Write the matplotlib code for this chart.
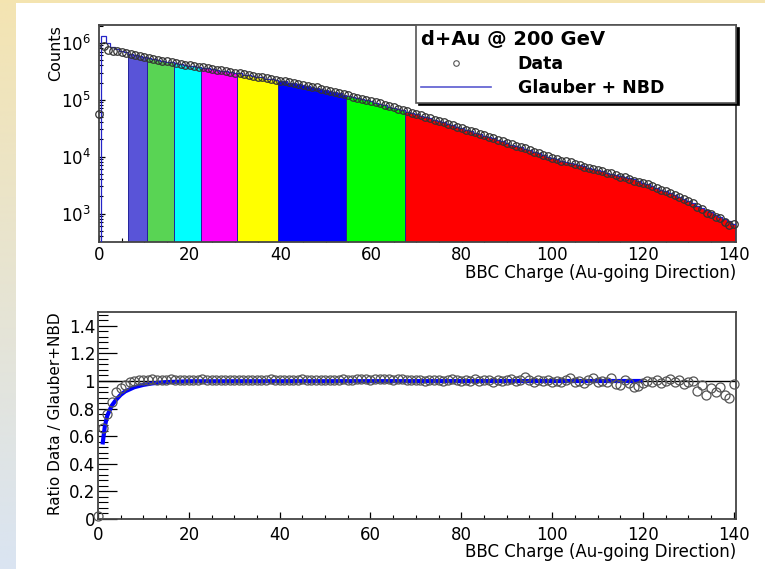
import numpy as np
import matplotlib.pyplot as plt
from matplotlib.lines import Line2D
from matplotlib.patches import Rectangle
from matplotlib.ticker import MultipleLocator, LogLocator, FixedLocator, NullFormatter

# BBC charge bins (width 1, centred on integers)
bbc_charge = np.arange(0, 141)

# Glauber + NBD model, log10(counts) per bin
glauber_log10 = [
    6.45,
    6.12, 6.00, 5.93, 5.89, 5.855, 5.83, 5.805, 5.785, 5.765, 5.745,
    5.73, 5.71, 5.70, 5.68, 5.67, 5.66, 5.64, 5.63, 5.61, 5.60,
    5.59, 5.57, 5.56, 5.55, 5.54, 5.52, 5.51, 5.50, 5.48, 5.47,
    5.46, 5.44, 5.43, 5.42, 5.40, 5.39, 5.37, 5.36, 5.35, 5.33,
    5.32, 5.30, 5.29, 5.27, 5.25, 5.24, 5.22, 5.21, 5.19, 5.17,
    5.15, 5.13, 5.11, 5.09, 5.07, 5.05, 5.03, 5.01, 4.99, 4.97,
    4.95, 4.93, 4.90, 4.88, 4.86, 4.83, 4.81, 4.79, 4.76, 4.74,
    4.72, 4.69, 4.67, 4.64, 4.62, 4.60, 4.57, 4.55, 4.52, 4.50,
    4.47, 4.45, 4.42, 4.40, 4.37, 4.34, 4.32, 4.29, 4.27, 4.24,
    4.21, 4.19, 4.16, 4.13, 4.11, 4.08, 4.06, 4.03, 4.00, 3.98,
    3.95, 3.93, 3.91, 3.89, 3.87, 3.85, 3.83, 3.80, 3.78, 3.76,
    3.74, 3.72, 3.70, 3.68, 3.66, 3.64, 3.62, 3.60, 3.57, 3.54,
    3.51, 3.48, 3.45, 3.42, 3.39, 3.36, 3.33, 3.29, 3.26, 3.22,
    3.18, 3.14, 3.10, 3.06, 3.02, 2.98, 2.94, 2.90, 2.86, 2.82,
]

# ratio data / (Glauber + NBD) per bin
ratio = [
    0.02,
    0.66, 0.76, 0.85, 0.92, 0.95, 0.97, 0.99, 1.0, 1.005, 1.01,
    1.01, 1.012, 1.01, 1.008, 1.01, 1.012, 1.01, 1.008, 1.01, 1.01,
    1.008, 1.01, 1.012, 1.006, 1.01, 1.008, 1.01, 1.004, 1.006, 1.01,
    1.008, 1.006, 1.01, 1.004, 1.008, 1.006, 1.01, 1.012, 1.006, 1.008,
    1.006, 1.01, 1.004, 1.008, 1.012, 1.006, 1.004, 1.01, 1.008, 1.006,
    1.01, 1.004, 1.008, 1.014, 1.01, 1.006, 1.012, 1.016, 1.014, 1.01,
    1.016, 1.012, 1.018, 1.014, 1.01, 1.016, 1.012, 1.006, 1.01, 1.004,
    1.008, 1.0, 1.006, 1.01, 1.004, 1.0, 1.008, 1.012, 1.004, 0.998,
    1.006, 1.002, 1.012, 1.0, 1.008, 1.004, 0.996, 1.01, 1.002, 1.008,
    1.014, 1.0, 1.008, 1.03, 1.004, 0.996, 1.004, 0.998, 1.006, 0.994,
    1.0, 0.99, 1.01, 1.02, 0.99, 1.0, 0.985, 1.01, 1.02, 0.995,
    1.0, 0.99, 1.02, 0.975, 0.97, 1.005, 0.985, 0.955, 0.965, 0.985,
    1.0, 0.99, 1.01, 0.985, 1.0, 1.015, 0.995, 1.005, 0.975, 0.995,
    1.0, 0.93, 0.97, 0.90, 0.95, 0.92, 0.96, 0.90, 0.88, 0.975,
]

# centrality class boundaries and their fill colours
band_edges = [6.5, 10.5, 16.5, 22.5, 30.5, 39.5, 54.5, 67.5, 140.5]
band_colors = ['#5954d8', '#59d454', '#00ffff', '#ff00ff',
               '#ffff00', '#0000ff', '#00ff00', '#ff0000']

# trigger turn-on curve drawn in the ratio panel
eff_x = [1, 1.5, 2, 3, 4, 5, 6, 7, 8, 10, 12, 15, 20, 120]
eff_y = [0.54, 0.67, 0.745, 0.82, 0.865, 0.90, 0.925, 0.94, 0.955,
         0.972, 0.983, 0.992, 0.998, 1.0]

ratio_yticks = [0, 0.2, 0.4, 0.6, 0.8, 1.0, 1.2, 1.4]
ratio_yticklabels = ['0', '0.2', '0.4', '0.6', '0.8', '1', '1.2', '1.4']
x_label = 'BBC Charge (Au-going Direction)'

glauber = 10 ** np.array(glauber_log10)
counts = glauber * np.array(ratio)
edges = np.append(bbc_charge - 0.5, bbc_charge[-1] + 0.5)

W, H = 765, 569
fig = plt.figure(figsize=(W / 100, H / 100), dpi=100, facecolor='white')

# slide background: yellow strip at top, yellow-to-blue strip on the left
bg = fig.add_axes([0, 0, 1, 1], zorder=-10)
bg.axis('off')
top_c = np.array([244, 228, 178]) / 255
bot_c = np.array([218, 228, 242]) / 255
t = np.linspace(0, 1, 200)[:, None, None]
grad = top_c * (1 - t) + bot_c * t
bg.imshow(grad, extent=[0, 16 / W, 0, 1], aspect='auto')
bg.add_patch(Rectangle((0, 1 - 3 / H), 1, 3 / H, color='#f4e4b0', lw=0))
bg.set_xlim(0, 1)
bg.set_ylim(0, 1)

spine_c = '#444444'

# ---------- top panel ----------
ax = fig.add_axes([99 / W, 1 - 242 / H, 637 / W, 217 / H])
for i in range(len(band_colors)):
    lo, hi = band_edges[i], band_edges[i + 1]
    sel = (bbc_charge > lo) & (bbc_charge < hi)
    ax.stairs(glauber[sel], np.append(bbc_charge[sel] - 0.5, bbc_charge[sel][-1] + 0.5),
              fill=True, baseline=1, facecolor=band_colors[i],
              edgecolor='#22229a', linewidth=0.7, zorder=2)
ax.stairs(glauber[1:], edges[1:], baseline=1, color='#2424c8', lw=0.9, zorder=3)
ax.plot(bbc_charge, counts, 'o', ms=5.4, mfc='none', mec='#333333', mew=0.9,
        zorder=4, clip_on=False)

ax.set_yscale('log')
ax.set_xlim(0, 140.5)
ax.set_ylim(316, 2.05e6)
ax.yaxis.set_major_locator(LogLocator(base=10))
ax.yaxis.set_minor_locator(LogLocator(base=10, subs=np.arange(2, 10)))
ax.yaxis.set_minor_formatter(NullFormatter())
ax.xaxis.set_major_locator(MultipleLocator(20))
ax.xaxis.set_minor_locator(MultipleLocator(5))
ax.tick_params(axis='y', which='major', direction='in', length=4.5, width=0.9,
               labelsize=12, pad=6)
ax.tick_params(axis='y', which='minor', direction='in', length=3, width=0.8)
ax.tick_params(axis='x', which='major', direction='in', length=5, width=0.9,
               labelsize=12, pad=3)
ax.tick_params(axis='x', which='minor', direction='in', length=3, width=0.8)
for s in ax.spines.values():
    s.set_color(spine_c)
    s.set_linewidth(1.3)
ax.set_ylabel('Counts', loc='top', fontsize=11.5)
ax.yaxis.set_label_coords(-0.057, 1.0)
ax.set_xlabel(x_label, loc='right', fontsize=12)
ax.xaxis.set_label_coords(1.0, -0.1)

handles = [Line2D([], [], ls='none', marker='o', ms=4, mfc='none', mec='#555555', mew=0.8),
           Line2D([], [], color='#5a5ad0', lw=1.2)]
leg = ax.legend(handles, ['Data', 'Glauber + NBD'], loc='upper left',
                bbox_to_anchor=(0.4976, 0.645, 0.5024, 0.355), mode='expand',
                borderaxespad=0, title='d+Au @ 200 GeV', alignment='left',
                title_fontproperties={'weight': 'bold', 'size': 14},
                prop={'weight': 'bold', 'size': 12.5}, handlelength=4.0,
                handletextpad=1.55, labelspacing=0.35, borderpad=0.3,
                fancybox=False, framealpha=1, edgecolor='#555555',
                shadow={'color': 'black', 'alpha': 1})
leg.get_frame().set_linewidth(1.2)
leg.set_zorder(6)

# ---------- ratio panel ----------
ax2 = fig.add_axes([98 / W, 1 - 519 / H, 638 / W, 207 / H])
ax2.axhline(1.0, color='black', lw=1.0, zorder=2)
ax2.plot(eff_x, eff_y, color='#0000ff', lw=3, zorder=3, solid_capstyle='butt')
ax2.plot(bbc_charge, ratio, 'o', ms=6.5, mfc='none', mec='#555555', mew=0.9,
         zorder=4, clip_on=False)
ax2.set_xlim(0, 140.5)
ax2.set_ylim(0, 1.5)
ax2.yaxis.set_major_locator(FixedLocator(ratio_yticks))
ax2.set_yticklabels(ratio_yticklabels)
ax2.yaxis.set_minor_locator(MultipleLocator(0.04))
ax2.xaxis.set_major_locator(MultipleLocator(20))
ax2.xaxis.set_minor_locator(MultipleLocator(5))
ax2.tick_params(axis='y', which='major', direction='in', length=13.5, width=0.9,
                labelsize=12, pad=2)
ax2.tick_params(axis='y', which='minor', direction='in', length=7, width=0.8)
ax2.tick_params(axis='x', which='major', direction='in', length=5, width=0.9,
                labelsize=12, pad=5)
ax2.tick_params(axis='x', which='minor', direction='in', length=3, width=0.8)
for s in ax2.spines.values():
    s.set_color(spine_c)
    s.set_linewidth(1.3)
ax2.set_ylabel('Ratio Data / Glauber+NBD', loc='top', fontsize=11)
ax2.yaxis.set_label_coords(-0.055, 1.0)
ax2.set_xlabel(x_label, loc='right', fontsize=12)
ax2.xaxis.set_label_coords(1.0, -0.115)

fig.savefig('out.png', dpi=100, facecolor='white')
